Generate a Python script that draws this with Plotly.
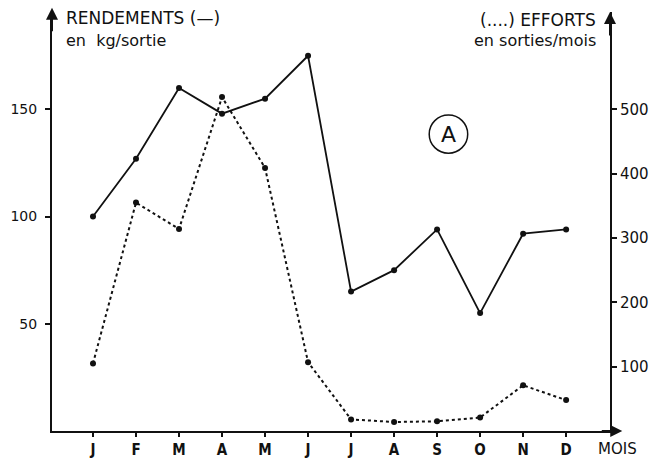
import plotly.graph_objects as go

# Monthly catch data
months = ["J", "F", "M", "A", "M", "J", "J", "A", "S", "O", "N", "D"]
rendements = [100, 127, 160, 148, 155, 175, 65, 75, 94, 55, 92, 94]   # kg/sortie
efforts = [105, 355, 314, 519, 409, 107, 18, 14, 15, 21, 71, 48]      # sorties/mois

left_ticks = [50, 100, 150]
right_ticks = [100, 200, 300, 400, 500]

x = list(range(len(months)))
ink = "#111111"
num_font = dict(family="DejaVu Sans", size=14, color=ink)
txt_font = dict(family="DejaVu Sans", size=17, color=ink)
sub_font = dict(family="DejaVu Sans", size=16, color=ink)
nb = "\u00a0"

fig = go.Figure()

fig.add_trace(go.Scatter(
    x=x, y=rendements, mode="lines+markers", yaxis="y",
    line=dict(color=ink, width=1.8),
    marker=dict(color=ink, size=6),
    showlegend=False, hoverinfo="skip",
))
fig.add_trace(go.Scatter(
    x=x, y=efforts, mode="lines+markers", yaxis="y2",
    line=dict(color=ink, width=2, dash="dot"),
    marker=dict(color=ink, size=6),
    showlegend=False, hoverinfo="skip",
))

fig.update_layout(
    width=659, height=458,
    margin=dict(l=52, r=49, t=12, b=27, autoexpand=False),
    paper_bgcolor="white", plot_bgcolor="white",
    xaxis=dict(
        range=[-0.953, 12.02], tickvals=x, ticktext=months,
        showgrid=False, zeroline=False, showline=True, automargin=False,
        linecolor=ink, linewidth=2,
        ticks="outside", ticklen=4, tickcolor=ink, tickwidth=1.5,
        ticklabelstandoff=0,
        tickfont=dict(family="DejaVu Sans Condensed", size=15, color=ink, weight="bold"),
    ),
    yaxis=dict(
        range=[0, 195.4], tickvals=left_ticks,
        showgrid=False, zeroline=False, showline=True, automargin=False,
        linecolor=ink, linewidth=2,
        ticks="outside", ticklen=5, tickcolor=ink, tickwidth=1.5,
        ticklabelstandoff=5,
        tickfont=num_font,
    ),
    yaxis2=dict(
        range=[0, 651.3], tickvals=right_ticks, overlaying="y", side="right",
        showgrid=False, zeroline=False, showline=True, automargin=False,
        linecolor=ink, linewidth=2,
        ticks="outside", ticklen=5, tickcolor=ink, tickwidth=1.5,
        tickfont=dict(family="DejaVu Sans", size=15, color=ink),
    ),
)

# Axis arrowheads
arrow = dict(text="", showarrow=True, arrowhead=2, arrowsize=1.2, arrowwidth=2,
             arrowcolor=ink, xref="paper", yref="paper")
fig.add_annotation(x=0, y=1.01, ax=0, ay=25, **arrow)
fig.add_annotation(x=1, y=1.0, ax=0, ay=25, **arrow)
fig.add_annotation(x=1.022, y=0, ax=-22, ay=0, **arrow)

# Axis titles
fig.add_annotation(x=0.021, y=0.986, xref="paper", yref="paper", xanchor="left",
                   yanchor="middle", text="RENDEMENTS (—)", showarrow=False, font=txt_font)
fig.add_annotation(x=0.021, y=0.933, xref="paper", yref="paper", xanchor="left",
                   yanchor="middle", text="en" + nb * 2 + "kg/sortie", showarrow=False,
                   font=sub_font)
fig.add_annotation(x=0.9785, y=0.981, xref="paper", yref="paper", xanchor="right",
                   yanchor="middle", text="(....) EFFORTS", showarrow=False, font=txt_font)
fig.add_annotation(x=0.9785, y=0.931, xref="paper", yref="paper", xanchor="right",
                   yanchor="middle", text="en sorties/mois", showarrow=False, font=sub_font)
fig.add_annotation(x=0.975, y=-0.042, xref="paper", yref="paper", xanchor="left",
                   yanchor="middle", text="MOIS", showarrow=False,
                   font=dict(family="DejaVu Sans", size=15, color=ink))

# Panel label in a circle
fig.add_shape(type="circle", xref="paper", yref="paper",
              x0=0.676, x1=0.745, y0=0.663, y1=0.754,
              line=dict(color=ink, width=1.5))
fig.add_annotation(x=0.7105, y=0.7085, xref="paper", yref="paper", text="A",
                   xanchor="center", yanchor="middle", showarrow=False,
                   font=dict(family="DejaVu Sans", size=22, color=ink))

fig.write_html("out.html")
